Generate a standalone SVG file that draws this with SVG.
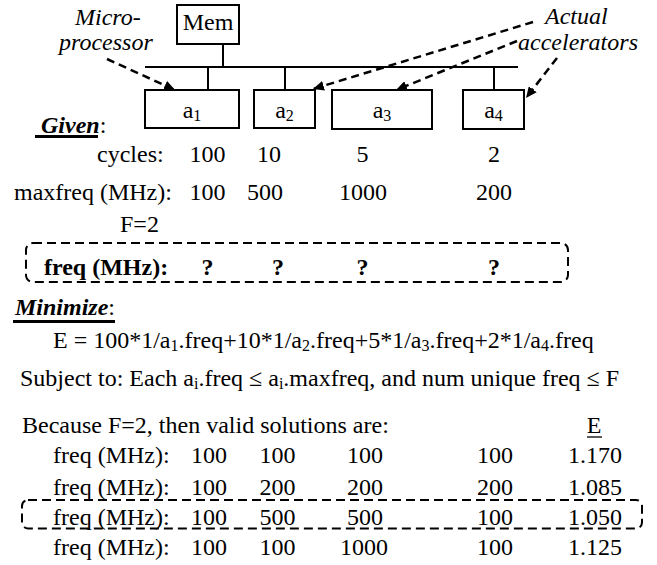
<svg xmlns="http://www.w3.org/2000/svg" width="657" height="565" viewBox="0 0 657 565" font-family="Liberation Serif, DejaVu Serif, serif" font-size="24">
<defs>
<style>
.b{font-weight:bold}
.i{font-style:italic}
.s{font-size:16px}
.m{text-anchor:middle}
.box{fill:#fff;stroke:#000;stroke-width:2}
.wire{stroke:#000;stroke-width:2;fill:none}
.ptr{stroke:#000;stroke-width:2.5;fill:none;stroke-dasharray:8 5;marker-end:url(#ah)}
.dbox{fill:none;stroke:#000;stroke-width:2;stroke-dasharray:9 5}
.ul{stroke:#000;stroke-width:3}
.ulthin{stroke:#000;stroke-width:1.3}
</style>
<marker id="ah" markerUnits="userSpaceOnUse" markerWidth="12" markerHeight="10" refX="11" refY="5" orient="auto"><path d="M0,0 L11,5 L0,10 z" fill="#000"/></marker>
</defs>
<rect width="657" height="565" fill="#fff"/>

<g id="connectors">
<line class="wire" x1="145" y1="67" x2="518" y2="67"/>
<line class="wire" x1="223" y1="44" x2="223" y2="67"/>
<line class="wire" x1="208" y1="67" x2="208" y2="90"/>
<line class="wire" x1="285" y1="67" x2="285" y2="90"/>
<line class="wire" x1="494" y1="67" x2="494" y2="90"/>
<path class="ptr" d="M107,59 L175,90"/>
<path class="ptr" d="M533,22 L313,89"/>
<path class="ptr" d="M517,41 L396,90"/>
<path class="ptr" d="M557,58 L526,98"/>
</g>

<g id="mem"><rect class="box" x="177" y="5" width="62" height="39"/><text class="m" x="208" y="30">Mem</text></g>
<g id="a1"><rect class="box" x="145" y="90" width="94" height="38"/><text class="m" x="192" y="118">a<tspan class="s" dy="3">1</tspan></text></g>
<g id="a2"><rect class="box" x="254" y="90" width="61" height="38"/><text class="m" x="284.5" y="118">a<tspan class="s" dy="3">2</tspan></text></g>
<g id="a3"><rect class="box" x="332" y="90" width="100" height="39"/><text class="m" x="382" y="118">a<tspan class="s" dy="3">3</tspan></text></g>
<g id="a4"><rect class="box" x="463" y="90" width="61" height="39"/><text class="m" x="493.5" y="118">a<tspan class="s" dy="3">4</tspan></text></g>

<g id="micro-label"><text class="i" x="75" y="25">Micro-</text><text class="i" x="59" y="50">processor</text></g>
<g id="accel-label"><text class="i" x="545" y="24">Actual</text><text class="i" x="518" y="50">accelerators</text></g>

<g id="given">
<text class="b i" x="41" y="133">Given<tspan font-weight="normal" font-style="normal">:</tspan></text>
<line class="ul" x1="35" y1="136.5" x2="98" y2="136.5"/>
<text x="97" y="162">cycles:</text>
<text class="m" x="207.5" y="162">100</text>
<text class="m" x="269" y="162">10</text>
<text class="m" x="362.5" y="162">5</text>
<text class="m" x="494" y="162">2</text>
<text x="14" y="200">maxfreq (MHz):</text>
<text class="m" x="207.5" y="200">100</text>
<text class="m" x="265" y="200">500</text>
<text class="m" x="363" y="200">1000</text>
<text class="m" x="494" y="200">200</text>
<text x="120" y="232">F=2</text>
</g>

<g id="freq-unknown">
<rect class="dbox" x="26" y="243" width="542" height="39" rx="7"/>
<text class="b" x="44" y="275">freq (MHz):</text>
<text class="b m" x="207.5" y="275">?</text>
<text class="b m" x="278" y="275">?</text>
<text class="b m" x="362.5" y="275">?</text>
<text class="b m" x="494" y="275">?</text>
</g>

<g id="minimize">
<text class="b i" x="15" y="315">Minimize<tspan font-weight="normal" font-style="normal">:</tspan></text>
<line class="ul" x1="13" y1="321.5" x2="115" y2="321.5"/>
<text x="53" y="348">E = 100*1/a<tspan class="s" dy="3">1</tspan><tspan dy="-3">.freq+10*1/a</tspan><tspan class="s" dy="3">2</tspan><tspan dy="-3">.freq+5*1/a</tspan><tspan class="s" dy="3">3</tspan><tspan dy="-3">.freq+2*1/a</tspan><tspan class="s" dy="3">4</tspan><tspan dy="-3">.freq</tspan></text>
<text x="20" y="386">Subject to: Each a<tspan class="s" dy="3">i</tspan><tspan dy="-3">.freq ≤ a</tspan><tspan class="s" dy="3">i</tspan><tspan dy="-3">.maxfreq, and num unique freq ≤ F</tspan></text>
</g>

<g id="solutions">
<text x="22" y="433">Because F=2, then valid solutions are:</text>
<text class="m" x="594" y="433">E</text>
<line class="ulthin" x1="587" y1="437" x2="602" y2="437"/>
<rect class="dbox" x="22" y="500" width="620" height="28.5" rx="6"/>
<text x="53" y="463">freq (MHz):</text>
<text class="m" x="209" y="463">100</text>
<text class="m" x="277.5" y="463">100</text>
<text class="m" x="365" y="463">100</text>
<text class="m" x="495" y="463">100</text>
<text class="m" x="595" y="463">1.170</text>
<text x="53" y="495">freq (MHz):</text>
<text class="m" x="209" y="495">100</text>
<text class="m" x="277.5" y="495">200</text>
<text class="m" x="365" y="495">200</text>
<text class="m" x="495" y="495">200</text>
<text class="m" x="595" y="495">1.085</text>
<text x="53" y="525">freq (MHz):</text>
<text class="m" x="209" y="525">100</text>
<text class="m" x="277.5" y="525">500</text>
<text class="m" x="365" y="525">500</text>
<text class="m" x="495" y="525">100</text>
<text class="m" x="595" y="525">1.050</text>
<text x="53" y="555">freq (MHz):</text>
<text class="m" x="209" y="555">100</text>
<text class="m" x="277.5" y="555">100</text>
<text class="m" x="364" y="555">1000</text>
<text class="m" x="495" y="555">100</text>
<text class="m" x="595" y="555">1.125</text>
</g>
</svg>
